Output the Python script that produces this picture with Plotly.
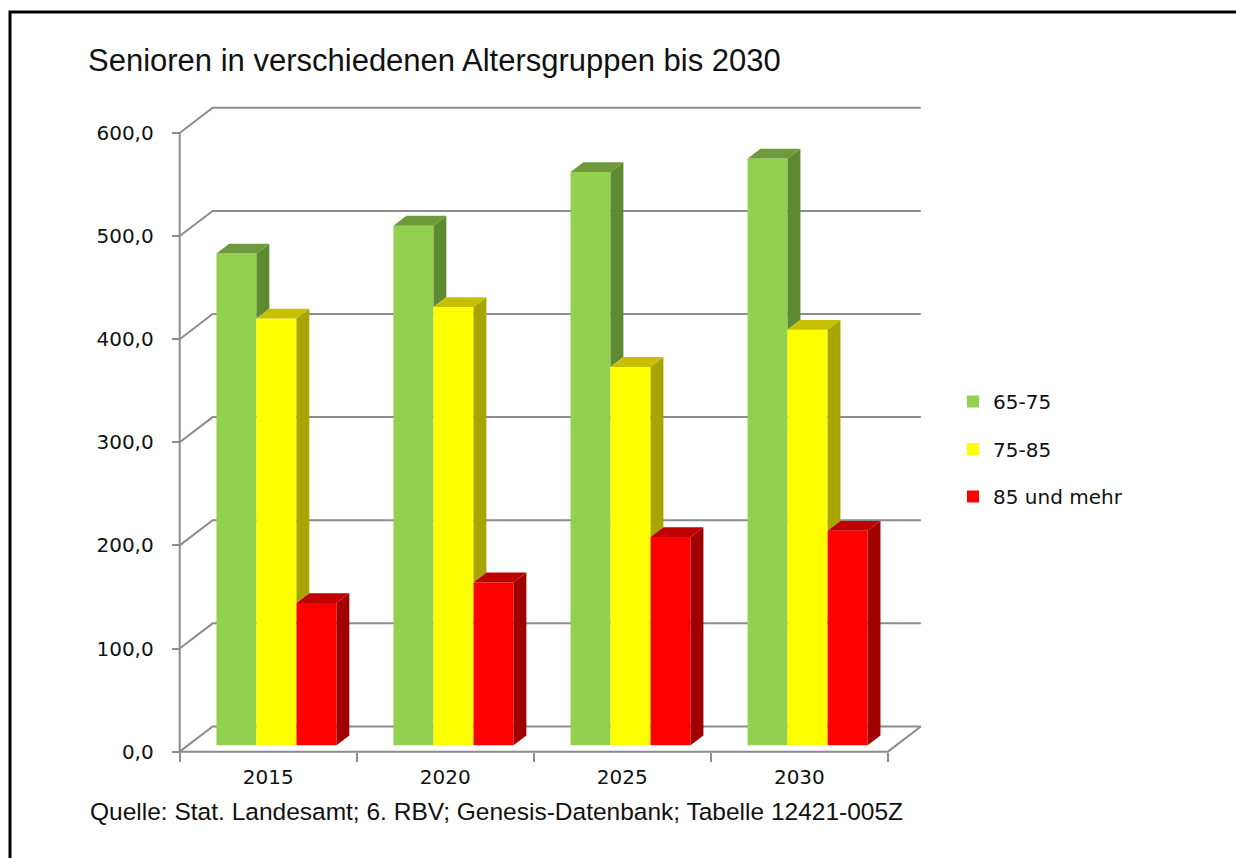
import plotly.graph_objects as go

# ---------------- data ----------------
years = ["2015", "2020", "2025", "2030"]
series_names = ["65-75", "75-85", "85 und mehr"]
v_65_75 = [477, 504, 556, 569]
v_75_85 = [414, 425, 367, 403]
v_85_plus = [138, 158, 202, 208]
y_ticks = [0, 100, 200, 300, 400, 500, 600]
title_text = "Senioren in verschiedenen Altersgruppen bis 2030"
source_text = "Quelle: Stat. Landesamt; 6. RBV; Genesis-Datenbank; Tabelle 12421-005Z"

series_values = [v_65_75, v_75_85, v_85_plus]

# ---------------- styles / geometry ----------------
front_colors = ["#92D050", "#FFFF00", "#FF0000"]
top_colors = ["#6E9A3C", "#C6C000", "#C00000"]
side_colors = ["#5E8A32", "#A8A400", "#A00000"]
grid_color = "#8C8C8C"
text_color = "#111111"

W, H = 1236, 858
ML, MR, MT, MB = 162, 295, 102, 94
XR = [-0.6, 3.8]
YR = [-12, 630]
DX = 0.186   # floor depth in x units
DY = 24.4    # floor depth in y units
F0 = 0.25    # front of bars (fraction of depth)
FB = 0.39    # bar depth (fraction of depth)
BW = 0.226   # bar width
n = len(years)
x_lo, x_hi = -0.5, n - 0.5

fig = go.Figure()

# front faces (bars)
for j, (name, vals) in enumerate(zip(series_names, series_values)):
    xc = [i + (j - 1) * BW + F0 * DX for i in range(n)]
    fig.add_trace(go.Bar(
        x=xc, y=vals, base=F0 * DY, width=BW, name=name,
        marker=dict(color=front_colors[j], line=dict(width=0)),
        legendgroup=name, customdata=years,
        hovertemplate="%{customdata}: %{y:.1f}<extra>" + name + "</extra>",
    ))

# side and top faces
bdx, bdy = FB * DX, FB * DY
for j, vals in enumerate(series_values):
    sx, sy, tx, ty = [], [], [], []
    for i, v in enumerate(vals):
        xL = i + (j - 1) * BW + F0 * DX - BW / 2
        xR = xL + BW
        top = F0 * DY + v
        nxt = series_values[j + 1][i] if j + 1 < len(series_values) else 0
        if nxt < v:
            lo = F0 * DY + nxt
            sx += [xR, xR + bdx, xR + bdx, xR, xR, None]
            sy += [lo, lo + bdy, top + bdy, top, lo, None]
        tx += [xL, xL + bdx, xR + bdx, xR, xL, None]
        ty += [top, top + bdy, top + bdy, top, top, None]
    fig.add_trace(go.Scatter(x=sx, y=sy, mode="lines", fill="toself",
                             fillcolor=side_colors[j], line=dict(width=0),
                             showlegend=False, hoverinfo="skip"))
    fig.add_trace(go.Scatter(x=tx, y=ty, mode="lines", fill="toself",
                             fillcolor=top_colors[j], line=dict(width=0),
                             showlegend=False, hoverinfo="skip"))

# walls: gridlines on back wall + side wall diagonals
shapes = []
for v in y_ticks:
    shapes.append(dict(
        type="path", xref="x", yref="y", layer="below",
        path=f"M {x_lo},{v} L {x_lo + DX},{v + DY} L {x_hi + DX},{v + DY}",
        line=dict(color=grid_color, width=2)))
# floor front edge + right diagonal
shapes.append(dict(type="path", xref="x", yref="y", layer="below",
                   path=f"M {x_lo},0 L {x_hi},0 L {x_hi + DX},{DY}",
                   line=dict(color=grid_color, width=2)))
# vertical axis line
shapes.append(dict(type="line", xref="x", yref="y", layer="below",
                   x0=x_lo, x1=x_lo, y0=0, y1=y_ticks[-1],
                   line=dict(color=grid_color, width=2)))
# outer border
plot_w = W - ML - MR
plot_h = H - MT - MB
shapes.append(dict(type="rect", xref="paper", yref="paper",
                   x0=(10 - ML) / plot_w, x1=2.0,
                   y0=-1.0, y1=(H - MB - 12) / plot_h,
                   line=dict(color="#000000", width=3), fillcolor="rgba(0,0,0,0)"))

fig.update_layout(
    width=W, height=H,
    margin=dict(l=ML, r=MR, t=MT, b=MB),
    paper_bgcolor="white", plot_bgcolor="rgba(0,0,0,0)",
    separators=",.",
    barmode="overlay",
    shapes=shapes,
    title=dict(text=title_text, x=88 / W, xref="container", xanchor="left",
               y=1 - 60 / H, yref="container", yanchor="middle",
               font=dict(family="Liberation Sans, Arial", size=31, color=text_color)),
    font=dict(family="DejaVu Sans, Verdana", size=20, color=text_color),
    legend=dict(xref="container", yref="container", x=953 / W, y=1 - 382 / H,
                xanchor="left", yanchor="top", tracegroupgap=18.5,
                font=dict(family="DejaVu Sans, Verdana", size=20, color=text_color),
                bgcolor="rgba(0,0,0,0)"),
    xaxis=dict(range=XR, anchor="free", position=(0 - YR[0]) / (YR[1] - YR[0]),
               tickmode="array", tickvals=list(range(n)), ticktext=years,
               ticks="", showgrid=False, zeroline=False, showline=False,
               ticklabelstandoff=11,
               minor=dict(tickmode="array",
                          tickvals=[i - 0.5 for i in range(n + 1)],
                          ticks="outside", ticklen=9, tickwidth=2,
                          tickcolor=grid_color, showgrid=False),
               fixedrange=True),
    yaxis=dict(range=YR, anchor="free", position=(x_lo - XR[0]) / (XR[1] - XR[0]),
               tickmode="array", tickvals=y_ticks, tickformat=".1f",
               ticks="outside", ticklen=8, tickwidth=2, tickcolor=grid_color,
               showgrid=False, zeroline=False, showline=False,
               ticklabelstandoff=14, fixedrange=True),
    annotations=[dict(text=source_text, xref="paper", yref="paper",
                      x=(88 - ML) / plot_w, y=(H - MB - 811) / plot_h,
                      xanchor="left", yanchor="middle", showarrow=False,
                      font=dict(family="Liberation Sans, Arial", size=24.5, color=text_color))],
)

fig.write_html("out.html", config={"displayModeBar": False},
               post_script="document.body.style.margin='0';document.body.style.padding='0';")
